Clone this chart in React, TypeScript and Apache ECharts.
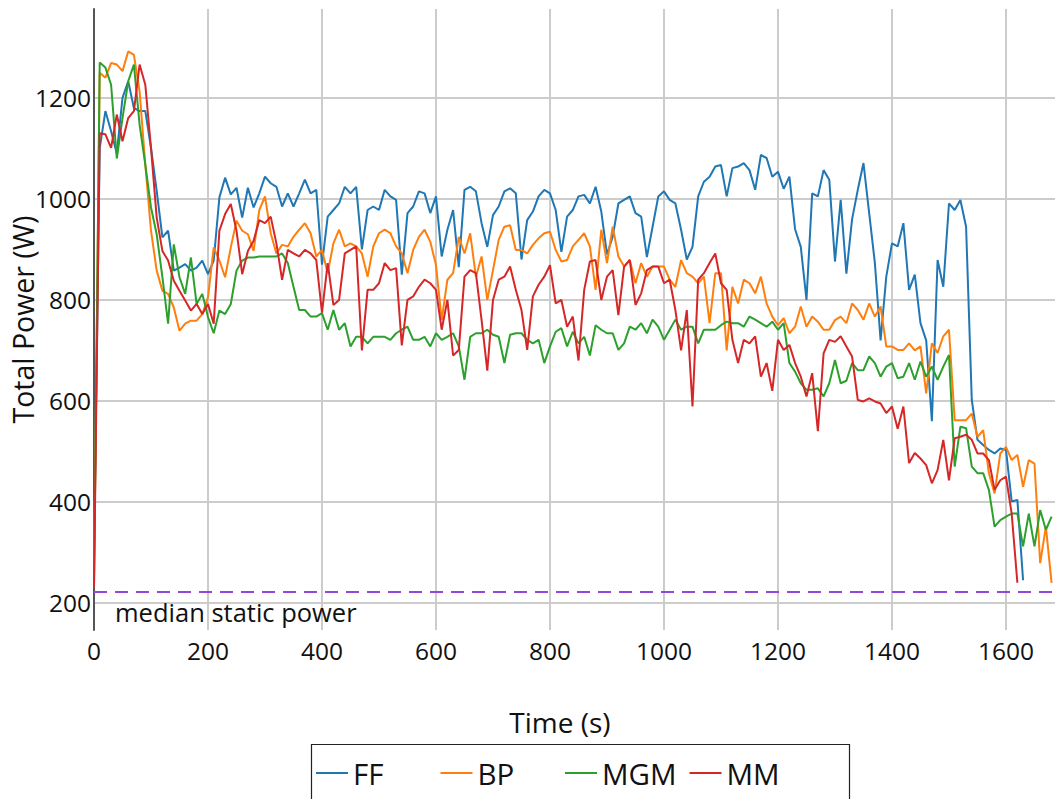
import React, { useEffect, useRef } from "react";
import * as echarts from "echarts";

const seriesNames = ["FF", "BP", "MGM", "MM"];
const seriesColors = ["#1f77b4", "#ff7f0e", "#2ca02c", "#d62728"];

const times = [
  0, 10, 20, 30, 40, 50, 60, 70, 80, 90, 100, 110, 120, 130, 140, 150, 160, 170, 180, 190,
  200, 210, 220, 230, 240, 250, 260, 270, 280, 290, 300, 310, 320, 330, 340, 350, 360, 370, 380, 390,
  400, 410, 420, 430, 440, 450, 460, 470, 480, 490, 500, 510, 520, 530, 540, 550, 560, 570, 580, 590,
  600, 610, 620, 630, 640, 650, 660, 670, 680, 690, 700, 710, 720, 730, 740, 750, 760, 770, 780, 790,
  800, 810, 820, 830, 840, 850, 860, 870, 880, 890, 900, 910, 920, 930, 940, 950, 960, 970, 980, 990,
  1000, 1010, 1020, 1030, 1040, 1050, 1060, 1070, 1080, 1090, 1100, 1110, 1120, 1130, 1140, 1150, 1160, 1170, 1180, 1190,
  1200, 1210, 1220, 1230, 1240, 1250, 1260, 1270, 1280, 1290, 1300, 1310, 1320, 1330, 1340, 1350, 1360, 1370, 1380, 1390,
  1400, 1410, 1420, 1430, 1440, 1450, 1460, 1470, 1480, 1490, 1500, 1510, 1520, 1530, 1540, 1550, 1560, 1570, 1580, 1590,
  1600, 1610, 1620, 1630, 1640, 1650, 1660, 1670, 1680,
];

const ffPower = [
  300, 1100, 1174, 1134, 1090, 1200, 1233, 1180, 1174, 1174,
  1101, 1016, 924, 937, 858, 864, 871, 858, 864, 878,
  851, 878, 1003, 1042, 1009, 1022, 963, 1022, 983, 1011,
  1044, 1031, 1024, 985, 1011, 985, 1011, 1038, 1011, 1018,
  870, 965, 978, 991, 1024, 1011, 1024, 900, 978, 985,
  978, 1018, 1005, 998, 850, 972, 985, 1015, 1011, 972,
  1005, 886, 939, 978, 865, 1018, 1024, 1015, 952, 905,
  968, 985, 1015, 1021, 1011, 880, 958, 975, 1005, 1018,
  1011, 978, 895, 965, 978, 1005, 1008, 991, 1024, 975,
  890, 925, 991, 998, 1005, 972, 965, 885, 945, 1005,
  1015, 998, 991, 939, 880, 905, 1005, 1034, 1044, 1064,
  1067, 1005, 1061, 1064, 1071, 1057, 1018, 1087, 1081, 1044,
  1054, 1020, 1044, 940, 905, 800, 1011, 1005, 1057, 1038,
  876, 998, 852, 960, 1018, 1071, 972, 873, 720, 846,
  912, 906, 952, 820, 850, 754, 720, 560, 879, 826,
  991, 978, 998, 945, 602, 523, 513, 503, 496, 506,
  503, 401, 404, 245,
];

const bpPower = [
  250, 1250, 1240, 1269, 1266, 1253, 1292, 1285, 1213, 1068,
  937, 858, 818, 812, 785, 739, 753, 759, 759, 772,
  805, 904, 878, 845, 904, 957, 937, 930, 897, 978,
  1005, 932, 892, 909, 906, 925, 939, 952, 932, 886,
  899, 853, 912, 939, 906, 912, 906, 892, 846, 906,
  932, 939, 932, 906, 892, 853, 899, 925, 939, 915,
  869, 760, 840, 853, 925, 892, 932, 846, 886, 800,
  859, 919, 945, 948, 899, 899, 892, 909, 922, 932,
  935, 899, 876, 879, 906, 919, 932, 906, 820, 939,
  873, 945, 886, 866, 879, 833, 873, 846, 866, 866,
  866, 840, 826, 879, 853, 846, 833, 846, 754, 853,
  853, 700, 826, 793, 840, 833, 813, 846, 793, 767,
  750, 764, 734, 747, 787, 747, 767, 757, 741, 741,
  760, 767, 754, 793, 780, 761, 793, 767, 787, 708,
  708, 701, 701, 714, 700, 708, 615, 714, 695, 728,
  741, 562, 562, 562, 575, 529, 542, 457, 417, 496,
  509, 483, 493, 430, 483, 476, 279, 351, 240,
];

const mgmPower = [
  230, 1270, 1260, 1226, 1080, 1160, 1233, 1266, 1147, 1068,
  983, 930, 845, 753, 910, 845, 812, 884, 792, 812,
  766, 734, 779, 772, 792, 858, 878, 884, 884, 886,
  886, 886, 886, 892, 873, 826, 780, 780, 767, 767,
  774, 741, 780, 741, 754, 708, 727, 727, 714, 727,
  727, 727, 721, 734, 741, 747, 721, 721, 727, 708,
  734, 721, 727, 734, 708, 642, 727, 734, 734, 741,
  731, 727, 675, 731, 734, 734, 721, 714, 721, 675,
  708, 737, 744, 708, 737, 714, 727, 690, 750, 741,
  734, 734, 701, 714, 747, 741, 754, 734, 761, 747,
  721, 741, 761, 741, 747, 747, 714, 741, 741, 741,
  750, 757, 754, 754, 747, 767, 761, 754, 747, 757,
  741, 754, 675, 658, 635, 622, 622, 625, 609, 635,
  681, 635, 640, 675, 661, 661, 688, 675, 648, 668,
  675, 645, 648, 675, 642, 678, 648, 668, 642, 668,
  691, 470, 549, 546, 470, 457, 457, 424, 351, 364,
  371, 377, 377, 312, 377, 312, 384, 345, 371,
];

const mmPower = [
  230, 1130, 1128, 1101, 1167, 1114, 1160, 1174, 1266, 1226,
  1101, 963, 897, 878, 838, 818, 799, 779, 792, 772,
  792, 753, 937, 970, 990, 937, 851, 897, 917, 958,
  952, 965, 912, 840, 899, 892, 886, 899, 892, 879,
  775, 873, 790, 800, 892, 899, 906, 700, 820, 820,
  833, 873, 859, 863, 710, 800, 807, 826, 840, 833,
  820, 741, 800, 690, 701, 846, 859, 853, 760, 660,
  800, 840, 846, 866, 820, 780, 701, 807, 830, 846,
  869, 793, 800, 747, 767, 680, 820, 876, 879, 800,
  846, 859, 770, 866, 879, 790, 813, 859, 866, 866,
  833, 840, 780, 700, 780, 589, 840, 853, 873, 892,
  833, 820, 721, 675, 721, 714, 728, 648, 675, 620,
  721, 701, 711, 675, 648, 609, 655, 540, 694, 721,
  717, 728, 708, 688, 602, 599, 605, 599, 595, 576,
  589, 545, 589, 477, 497, 486, 473, 437, 463, 523,
  443, 526, 529, 533, 523, 496, 496, 483, 424, 443,
  450, 377, 240,
];

const seriesValues = [ffPower, bpPower, mgmPower, mmPower];

const staticPower = 222;
const staticLabel = "median static power";
const xTitle = "Time (s)";
const yTitle = "Total Power (W)";

const FONT = "'Open Sans', 'Noto Sans', sans-serif";

export default function App() {
  const ref = useRef<HTMLDivElement>(null);

  useEffect(() => {
    if (!ref.current) return;
    const chart = echarts.init(ref.current, undefined, { renderer: "svg" });

    const series: any[] = seriesValues.map((vals, si) => ({
      name: seriesNames[si],
      type: "line",
      data: vals.map((v, i) => [times[i], v]),
      showSymbol: false,
      symbol: "none",
      lineStyle: { width: 2, color: seriesColors[si] },
      itemStyle: { color: seriesColors[si] },
      z: 2 + si,
      ...(si === 0
        ? {
            markLine: {
              silent: true,
              symbol: ["none", "none"],
              data: [{ yAxis: staticPower }],
              lineStyle: { color: "#9446d8", type: [13, 8], width: 2 },
              label: {
                show: true,
                position: "insideStartBottom",
                formatter: staticLabel,
                fontSize: 25.5,
                fontFamily: FONT,
                color: "#111",
                distance: [21, 7],
              },
              emphasis: { disabled: true },
            },
          }
        : {}),
    }));

    chart.setOption({
      animation: false,
      backgroundColor: "#ffffff",
      textStyle: { fontFamily: FONT },
      grid: { left: 94, right: 0, top: 9, bottom: 169, containLabel: false, outerBoundsMode: "none" },
      legend: {
        data: seriesNames,
        left: 316,
        top: 753,
        padding: 0,
        itemGap: 7.5,
        itemWidth: 32,
        itemHeight: 2,
        icon: "rect",
        textStyle: {
          fontSize: 29.5,
          fontFamily: FONT,
          color: "#111",
          width: 80,
          lineHeight: 40,
        },
      },
      xAxis: {
        type: "value",
        min: 0,
        max: 1686,
        splitNumber: 8,
        name: xTitle,
        nameLocation: "middle",
        nameGap: 78,
        nameMoveOverlap: false,
        nameTextStyle: {
          fontSize: 28,
          fontFamily: FONT,
          color: "#111",
          padding: [0, 29, 0, 0],
        },
        axisLine: { show: false },
        axisTick: { show: false },
        axisLabel: {
          fontSize: 24.5,
          fontFamily: FONT,
          color: "#111",
          margin: 8,
          showMaxLabel: false,
          formatter: (v: number) => String(v),
        },
        splitLine: {
          show: true,
          showMaxLine: false,
          lineStyle: { color: "#cccccc", width: 2 },
        },
      },
      yAxis: {
        type: "value",
        min: 146.5,
        max: 1376,
        splitNumber: 6,
        name: yTitle,
        nameLocation: "middle",
        nameGap: 57,
        nameMoveOverlap: false,
        nameTextStyle: { fontSize: 28.5, fontFamily: FONT, color: "#111" },
        axisLine: { show: true, lineStyle: { color: "#555555", width: 2 } },
        axisTick: { show: false },
        axisLabel: {
          fontSize: 24.5,
          fontFamily: FONT,
          color: "#111",
          margin: 3,
          showMinLabel: false,
          showMaxLabel: false,
          formatter: (v: number) => String(v),
        },
        splitLine: {
          show: true,
          showMinLine: false,
          showMaxLine: false,
          lineStyle: { color: "#cccccc", width: 2 },
        },
      },
      graphic: [
        {
          type: "rect",
          left: 309,
          top: 742,
          shape: { x: 0, y: 0, width: 538, height: 90 },
          style: { fill: "none", stroke: "#222", lineWidth: 1.2 },
          silent: true,
        },
      ],
      series,
    });

    return () => {
      chart.dispose();
    };
  }, []);

  return (
    <div
      ref={ref}
      style={{ position: "fixed", left: 0, top: 0, width: 1055, height: 799, background: "#fff" }}
    />
  );
}
